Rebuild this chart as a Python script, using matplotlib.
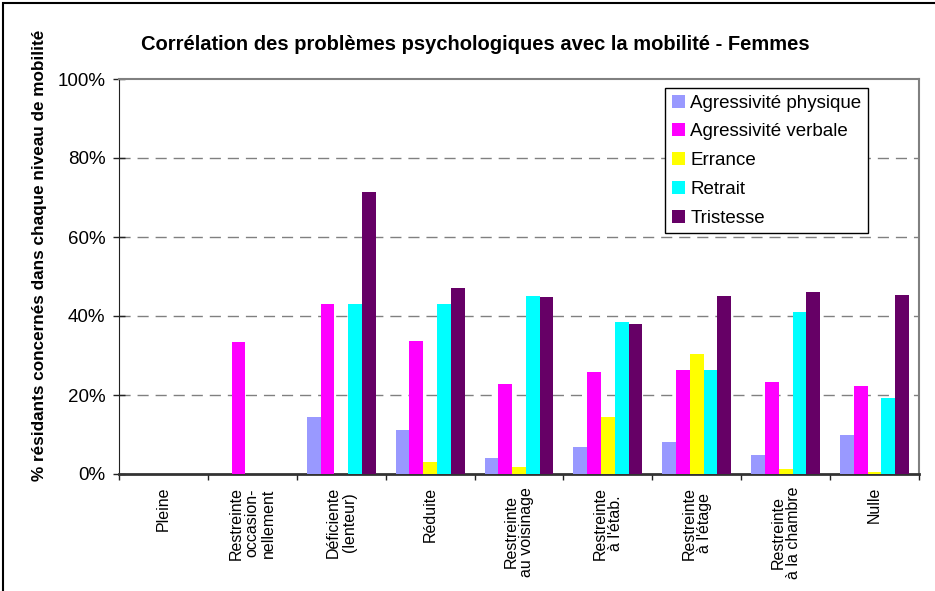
import numpy as np
import matplotlib
matplotlib.use('Agg')
import matplotlib.pyplot as plt
from matplotlib.patches import Rectangle

plt.rcParams['font.family'] = ['Liberation Sans', 'DejaVu Sans']

# niveaux de mobilité
categories = ['Pleine', 'Restreinte\noccasion-\nnellement', 'Déficiente\n(lenteur)', 'Réduite',
              'Restreinte\nau voisinage', 'Restreinte\nà l\'étab.', 'Restreinte\nà l\'étage',
              'Restreinte\nà la chambre', 'Nulle']

# % par problème psychologique
agr_physique = [0, 0, 14.5, 11.1, 4.0, 6.8, 8.1, 4.8, 9.9]
agr_verbale = [0, 33.4, 43.0, 33.7, 22.8, 25.8, 26.3, 23.3, 22.3]
errance = [0, 0, 0, 3.0, 1.7, 14.4, 30.4, 1.2, 0.5]
retrait = [0, 0, 43.0, 43.0, 45.1, 38.5, 26.3, 41.0, 19.2]
tristesse = [0, 0, 71.5, 47.1, 44.8, 38.0, 45.1, 46.1, 45.3]

series = [('Agressivité physique', agr_physique, '#9999FF'),
          ('Agressivité verbale', agr_verbale, '#FF00FF'),
          ('Errance', errance, '#FFFF00'),
          ('Retrait', retrait, '#00FFFF'),
          ('Tristesse', tristesse, '#660066')]

fig = plt.figure(figsize=(9.35, 5.91), dpi=100)
ax = fig.add_axes([119/935, 1-474/591, 800/935, 395/591])

x = np.arange(len(categories))
w = 0.155
for i, (name, vals, col) in enumerate(series):
    ax.bar(x + (i-2)*w, vals, w, color=col, label=name, zorder=3)

ax.set_xlim(-0.5, len(categories)-0.5)
ax.set_ylim(0, 100)
ax.set_yticks(range(0, 101, 20))
ax.set_yticklabels([f'{v}%' for v in range(0, 101, 20)], fontsize=13.5)
for v in range(20, 100, 20):
    ax.axhline(v, color='#808080', lw=1, ls=(0, (8, 5)), zorder=1)

ax.set_xticks(np.arange(len(categories)+1) - 0.5)
ax.set_xticklabels([])
ax.tick_params(axis='x', direction='out', length=4.5, width=1, color='#222222')
ax.tick_params(axis='y', direction='inout', length=8.5, width=1, color='#222222', pad=5.5)
for i, c in enumerate(categories):
    ax.text(i, -3.2, c, rotation=90, ha='center', va='top', multialignment='center',
            fontsize=11.5, linespacing=1.05, transform=ax.transData)

ax.spines['top'].set_color('#808080')
ax.spines['right'].set_color('#808080')
ax.spines['top'].set_linewidth(1.5)
ax.spines['right'].set_linewidth(1.5)
ax.spines['left'].set_color('#222222')
ax.spines['bottom'].set_color('#333333')
ax.spines['bottom'].set_linewidth(2)

leg = ax.legend(loc='upper left', bbox_to_anchor=((665-119)/800, (474-88)/395),
                fontsize=13.5, frameon=True, fancybox=False, edgecolor='black',
                handlelength=0.7, handleheight=0.7, handletextpad=0.3,
                labelspacing=0.62, borderpad=0.35, borderaxespad=0)
leg.get_frame().set_linewidth(1)
leg.get_frame().set_alpha(1)

fig.text(475/935, 1-45/591, 'Corrélation des problèmes psychologiques avec la mobilité - Femmes',
         ha='center', va='center', fontsize=14.5, fontweight='bold')
fig.text(40/935, 1-255/591, '% résidants concernés dans chaque niveau de mobilité',
         rotation=90, ha='center', va='center', fontsize=12.3, fontweight='bold')

fig.patches.append(Rectangle((3/935, -0.1), 1.2, 1.1 - 3/591, transform=fig.transFigure,
                             fill=False, edgecolor='black', lw=1.5))

fig.savefig('out.png', dpi=100)
